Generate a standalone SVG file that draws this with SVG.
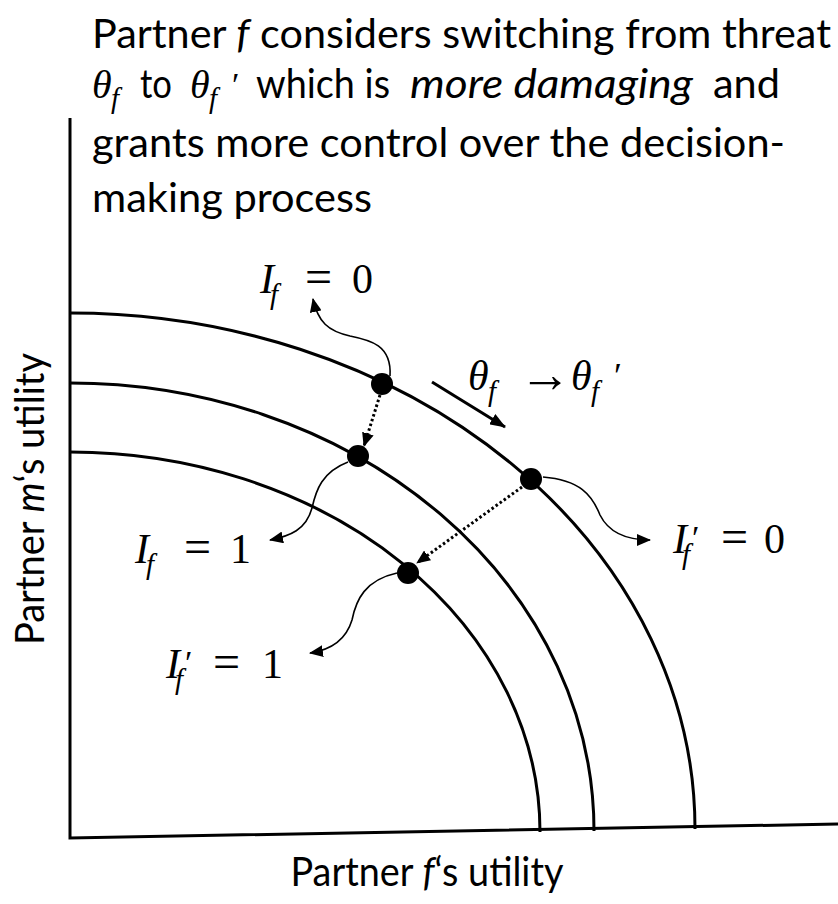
<svg xmlns="http://www.w3.org/2000/svg" width="838" height="904" viewBox="0 0 838 904">
<style>
.t{font-family:Lato,"Open Sans","Liberation Sans",sans-serif;font-size:40px;fill:#000}
.n{font-family:"Liberation Serif","DejaVu Serif",serif;font-size:42px;fill:#000}
.i{font-style:italic}
.sb{font-style:italic;font-size:29px}
.eq{font-size:48px}
.pr{font-size:34px}
.curve{fill:none;stroke:#000;stroke-width:3}
.conn{fill:none;stroke:#000;stroke-width:1.6}
.dot{fill:none;stroke:#000;stroke-width:3;stroke-dasharray:2.5 2.5}
</style>
<defs>
<marker id="ah" markerUnits="userSpaceOnUse" markerWidth="16" markerHeight="12" viewBox="0 0 16 12" refX="15" refY="6" orient="auto">
<path d="M0,0 L16,6 L0,12 z" fill="#000"/>
</marker>
<marker id="ah2" markerUnits="userSpaceOnUse" markerWidth="14" markerHeight="12" viewBox="0 0 14 12" refX="13" refY="6" orient="auto">
<path d="M0,0 L14,6 L0,12 z" fill="#000"/>
</marker>
</defs>

<g id="title">
<text class="t" x="92" y="48" textLength="739" lengthAdjust="spacingAndGlyphs">Partner <tspan font-style="italic">f</tspan> considers switching from threat</text>
<text class="n" y="98"><tspan class="i" x="92" font-size="40">θ</tspan><tspan class="sb" x="111" y="108" font-size="27">f</tspan><tspan class="i" x="190" y="98" font-size="40">θ</tspan><tspan class="sb" x="209" y="108" font-size="27">f</tspan><tspan x="232" y="96" font-size="34">′</tspan></text>
<text class="t" x="140" y="98" textLength="32" lengthAdjust="spacingAndGlyphs">to</text>
<text class="t" x="256" y="98" textLength="134" lengthAdjust="spacingAndGlyphs">which is</text>
<text class="t" x="410" y="98" font-style="italic" textLength="283" lengthAdjust="spacingAndGlyphs">more damaging</text>
<text class="t" x="713" y="98" textLength="67" lengthAdjust="spacingAndGlyphs">and</text>
<text class="t" x="92" y="157" textLength="693" lengthAdjust="spacingAndGlyphs">grants more control over the decision-</text>
<text class="t" x="92" y="212" textLength="280" lengthAdjust="spacingAndGlyphs">making process</text>
</g>

<g id="axes">
<path class="curve" d="M70,118 L70,838 L838,824"/>
<text class="t" transform="translate(44,499) rotate(-90)" text-anchor="middle" font-size="36" textLength="292" lengthAdjust="spacingAndGlyphs">Partner <tspan font-style="italic">m</tspan>‘s utility</text>
<text class="t" x="427" y="886" text-anchor="middle" font-size="36" textLength="273" lengthAdjust="spacingAndGlyphs">Partner <tspan font-style="italic">f</tspan>‘s utility</text>
</g>

<g id="frontiers">
<path id="outer" class="curve" d="M70,313 A625,516 0 0 1 695,829"/>
<path id="middle" class="curve" d="M70,383 A524,448 0 0 1 594,831"/>
<path id="inner" class="curve" d="M70,452 A470,380 0 0 1 540,832"/>
</g>

<g id="connectors">
<path class="dot" d="M380,395 L364,446" marker-end="url(#ah2)"/>
<path class="dot" d="M522,487 L417,563" marker-end="url(#ah2)"/>
<path class="curve" d="M432,382 L505,427" marker-end="url(#ah)"/>
<path class="conn" d="M390,376 C392,345 370,340 350,336 C328,331 318,322 313,299" marker-end="url(#ah2)"/>
<path class="conn" d="M348,462 C322,472 316,490 312,508 C306,530 290,536 270,540" marker-end="url(#ah2)"/>
<path class="conn" d="M397,573 C365,580 356,600 352,620 C346,640 330,650 310,653" marker-end="url(#ah2)"/>
<path class="conn" d="M543,477 C580,480 592,495 600,515 C610,535 630,540 650,540" marker-end="url(#ah2)"/>
</g>

<g id="p1"><circle cx="382" cy="384" r="11" fill="#000"/></g>
<g id="p2"><circle cx="358" cy="456" r="11" fill="#000"/></g>
<g id="p3"><circle cx="531" cy="479" r="11" fill="#000"/></g>
<g id="p4"><circle cx="408" cy="573" r="11" fill="#000"/></g>

<g id="label-If0">
<text class="n" y="293"><tspan class="i" x="260">I</tspan><tspan class="sb" x="270" y="304">f</tspan><tspan class="eq" x="305" y="293">=</tspan><tspan x="352">0</tspan></text>
</g>
<g id="label-theta">
<text class="n" y="390"><tspan class="i" x="468">θ</tspan><tspan class="sb" x="488" y="401">f</tspan><tspan x="519" y="392" font-size="52">→</tspan><tspan class="i" x="571" y="390">θ</tspan><tspan class="sb" x="591" y="401">f</tspan><tspan x="614" y="388" font-size="36">′</tspan></text>
</g>
<g id="label-If1">
<text class="n" y="563"><tspan class="i" x="135">I</tspan><tspan class="sb" x="146" y="574">f</tspan><tspan class="eq" x="184" y="563">=</tspan><tspan x="230">1</tspan></text>
</g>
<g id="label-Ipf1">
<text class="n" y="678"><tspan class="i" x="166">I</tspan><tspan class="pr" x="185" y="674">′</tspan><tspan class="sb" x="175" y="689">f</tspan><tspan class="eq" x="213" y="678">=</tspan><tspan x="262">1</tspan></text>
</g>
<g id="label-Ipf0">
<text class="n" y="553"><tspan class="i" x="673">I</tspan><tspan class="pr" x="692" y="549">′</tspan><tspan class="sb" x="682" y="564">f</tspan><tspan class="eq" x="721" y="553">=</tspan><tspan x="764">0</tspan></text>
</g>
</svg>
